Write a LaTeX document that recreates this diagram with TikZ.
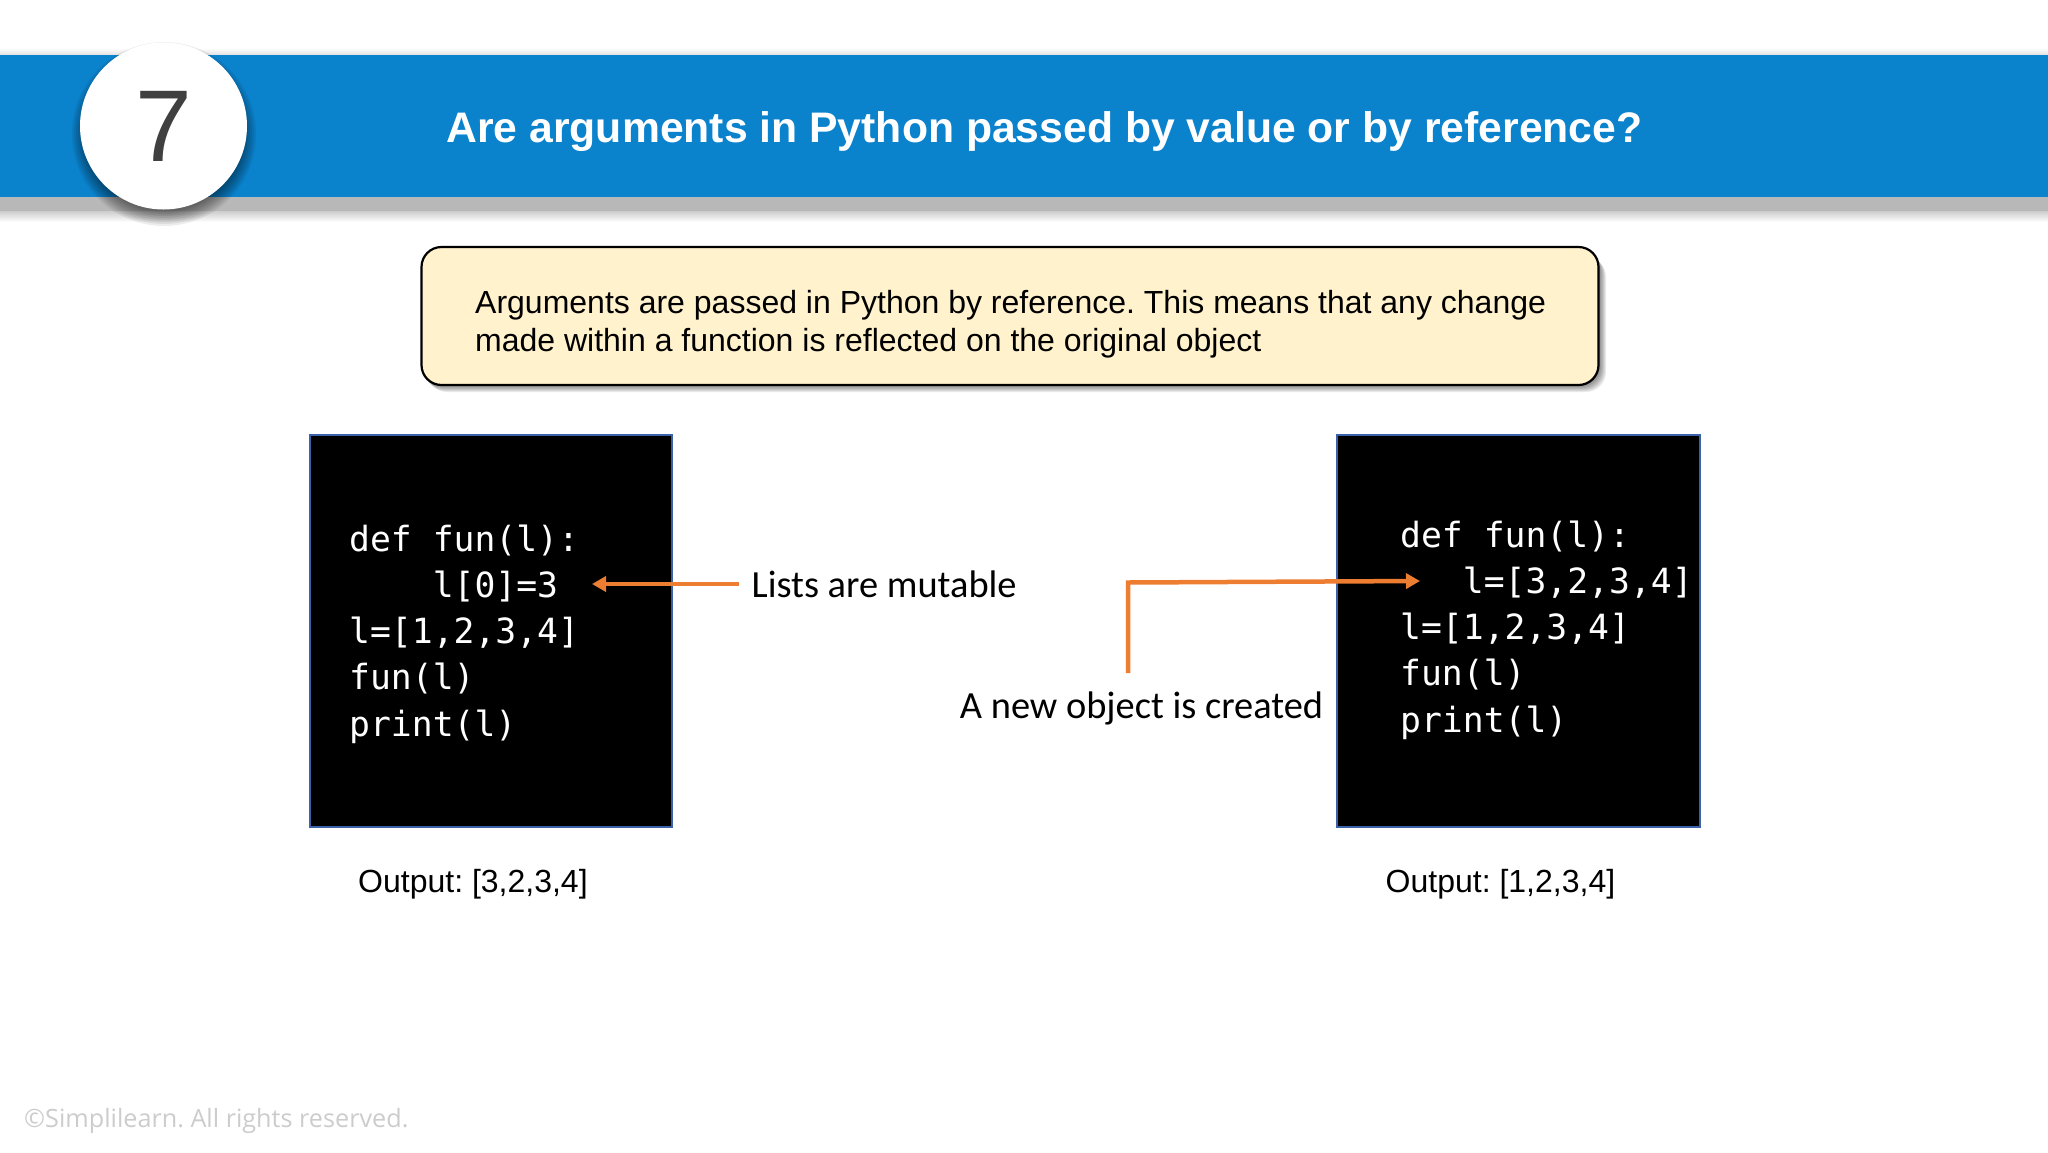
\documentclass[tikz,border=0pt]{standalone}
\usepackage{fontspec}
\usepackage{xcolor}
\usepackage{tikz}
\usetikzlibrary{arrows.meta}
\setmainfont{Liberation Sans}
\newfontfamily\calibrifont{Carlito}
\newfontfamily\codefont{DejaVu Sans Mono}
\newfontfamily\footerfont{Open Sans}
\definecolor{bandblue}{HTML}{0B82CC}
\definecolor{notefill}{HTML}{FFF2CC}
\definecolor{arroworange}{HTML}{ED7D31}
\definecolor{boxedge}{HTML}{3A62A8}
\tikzset{
  codebox/.style={draw=boxedge, line width=2pt, fill=black, minimum width=362.5pt, minimum height=392pt, inner sep=0pt},
  codetext/.style={text=white, align=left, inner sep=0pt, font=\codefont\fontsize{34.7}{46.2}\selectfont},
  sidelabel/.style={inner sep=0pt, font=\calibrifont\fontsize{38.4}{44}\selectfont},
  outlabel/.style={anchor=base west, inner sep=0pt, font=\fontsize{32}{38}\selectfont},
  orangeline/.style={draw=arroworange, line width=4.5pt, -{Triangle[length=14pt,width=15pt]}}
}
\begin{document}
\frenchspacing
\begin{tikzpicture}[x=1pt, y=-1pt]
  \useasboundingbox (0, 0) rectangle (2048, 1152);

  \shade[top color=white, bottom color=black!12] (0, 48) rectangle (2048, 55);
  \fill[bandblue] (0, 55) rectangle (2048, 197);
  \fill[black!28] (0, 197) rectangle (2048, 211);
  \shade[top color=black!20, bottom color=white] (0, 211) rectangle (2048, 222);

  \foreach \r in {92, 90, ..., 78}
    \fill[black, opacity=0.07] (164, 134) circle (\r);
  \node[circle, fill=white, minimum size=167pt, inner sep=0pt, text=black!75, font=\fontsize{102}{102}\selectfont] (badge) at (163.5, 126) {7};
  \node[text=white, inner sep=0pt, font=\bfseries\fontsize{42.7}{50}\selectfont] (title) at (1044.5, 131.5) {Are arguments in Python passed by value or by reference?};

  \foreach \d in {1, 2, ..., 7}
    \fill[black, opacity=0.08, rounded corners=20pt] (420+\d, 250+\d) rectangle (1599+\d, 385+\d);
  \node[draw=black, line width=2.2pt, fill=notefill, rounded corners=20pt, minimum width=1177pt, minimum height=138pt] (note) at (1010, 316) {};
  \node[anchor=west, inner sep=0pt, align=left, font=\fontsize{32}{38.5}\selectfont] (notetext) at (475, 324) {Arguments are passed in Python by reference. This means that any change\\made within a function is reflected on the original object};

  \node[codebox] (boxA) at (491, 631) {};
  \node[codebox] (boxB) at (1518.5, 631) {};
  \node[codetext, anchor=west] (codeA) at (349, 634) {def fun(l):\\\phantom{xxxx}l[0]=3\\l=[1,2,3,4]\\fun(l)\\print(l)};
  \node[codetext, anchor=west] (codeB) at (1400, 630) {def fun(l):\\\phantom{xxx}l=[3,2,3,4]\\l=[1,2,3,4]\\fun(l)\\print(l)};

  \node[sidelabel, anchor=west] (mutable) at (751.5, 584) {Lists are mutable};
  \node[sidelabel] (created) at (1141.5, 708) {A new object is created};

  \coordinate (tipA) at (592, 584);
  \coordinate (startB) at (1128, 673);
  \coordinate (bendB) at (1128, 582.5);
  \coordinate (tipB) at (1420, 581);
  \draw[orangeline] ([xshift=-13pt]mutable.west) -- (tipA);
  \draw[orangeline] (startB) -- (bendB) -- (tipB);

  \node[outlabel] (outA) at (358, 892) {Output: [3,2,3,4]};
  \node[outlabel] (outB) at (1385.5, 892) {Output: [1,2,3,4]};
  \node[anchor=west, inner sep=0pt, text=black!20, font=\footerfont\fontsize{25.2}{30}\selectfont] (footer) at (24, 1120.5) {©Simplilearn. All rights reserved.};
\end{tikzpicture}
\end{document}
